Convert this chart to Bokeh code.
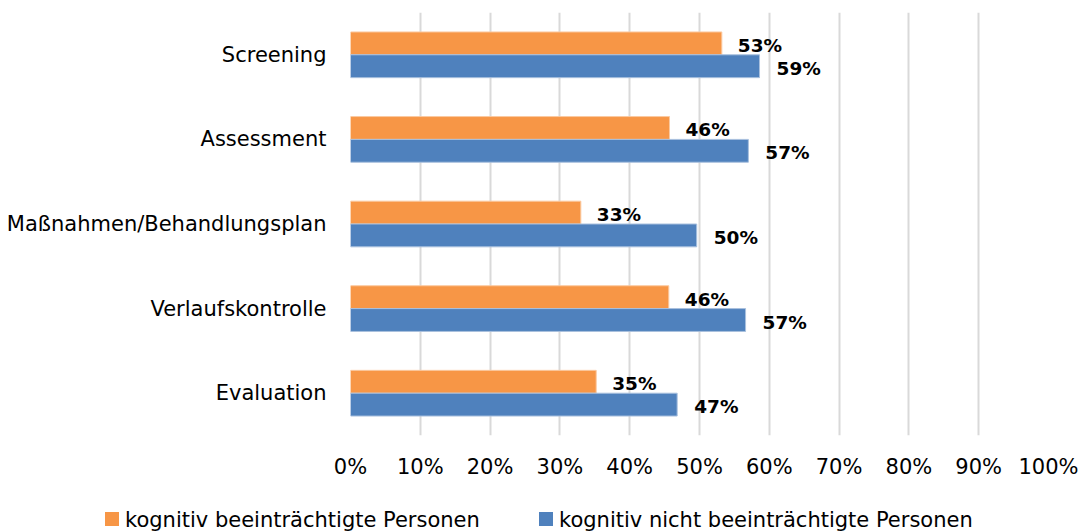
from bokeh.plotting import figure
from bokeh.models import (ColumnDataSource, FactorRange, FixedTicker, PrintfTickFormatter, Div)
from bokeh.layouts import column
from bokeh.transform import dodge
from bokeh.core.properties import value
from bokeh.embed import file_html
from bokeh.resources import INLINE

categories = ["Screening", "Assessment", "Maßnahmen/Behandlungsplan",
              "Verlaufskontrolle", "Evaluation"]
impaired = [53.2, 45.7, 33.0, 45.6, 35.2]        # kognitiv beeinträchtigte Personen
not_impaired = [58.6, 57.0, 49.6, 56.6, 46.8]    # kognitiv nicht beeinträchtigte Personen
x_ticks = [0, 10, 20, 30, 40, 50, 60, 70, 80, 90, 100]
series_names = ["kognitiv beeinträchtigte Personen",
                "kognitiv nicht beeinträchtigte Personen"]

ORANGE = "#F79646"
BLUE = "#4F81BD"
FONT = "DejaVu Sans"

src = ColumnDataSource(dict(
    cat=categories,
    imp=impaired,
    nimp=not_impaired,
    imp_lbl=[f"{v:.0f}%" for v in impaired],
    nimp_lbl=[f"{v:.0f}%" for v in not_impaired],
))

p = figure(width=1080, height=490, output_backend="svg", toolbar_location=None,
           y_range=FactorRange(*reversed(categories), range_padding=0),
           x_range=(0, 100),
           min_border_left=350, min_border_right=32, min_border_top=12,
           min_border_bottom=55)
p.y_range.factor_padding = 0
p.outline_line_color = None
p.background_fill_color = "white"
p.border_fill_color = "white"

bh = 0.27
r1 = p.hbar(y=dodge("cat", bh / 2, range=p.y_range), right="imp", left=0, height=bh,
            source=src, fill_color=ORANGE, line_color="#FBC9A0", line_width=1)
r2 = p.hbar(y=dodge("cat", -bh / 2, range=p.y_range), right="nimp", left=0, height=bh,
            source=src, fill_color=BLUE, line_color="#A9C0DE", line_width=1)

p.text(x="imp", y=dodge("cat", bh / 2, range=p.y_range), text="imp_lbl", source=src,
       x_offset=16, y_offset=2, text_baseline="middle", text_align="left",
       text_font=value(FONT), text_font_style="bold", text_font_size="18.5px",
       text_color="black")
p.text(x="nimp", y=dodge("cat", -bh / 2, range=p.y_range), text="nimp_lbl", source=src,
       x_offset=17, y_offset=2, text_baseline="middle", text_align="left",
       text_font=value(FONT), text_font_style="bold", text_font_size="18.5px",
       text_color="black")

# grid
p.ygrid.grid_line_color = None
p.xgrid.ticker = FixedTicker(ticks=x_ticks)
p.xgrid.grid_line_color = "#d9d9d9"
p.xgrid.grid_line_width = 2

# x axis
xa = p.xaxis[0]
xa.ticker = FixedTicker(ticks=x_ticks)
xa.formatter = PrintfTickFormatter(format="%d%%")
xa.axis_line_color = None
xa.major_tick_line_color = None
xa.minor_tick_line_color = None
xa.major_label_text_font = FONT
xa.major_label_text_font_size = "21px"
xa.major_label_text_color = "black"
xa.major_label_standoff = 13

# y axis
ya = p.yaxis[0]
ya.axis_line_color = None
ya.major_tick_line_color = None
ya.minor_tick_line_color = None
ya.major_label_text_font = FONT
ya.major_label_text_font_size = "21px"
ya.major_label_text_color = "black"
ya.major_label_standoff = 18

# legend strip as HTML (kept outside the plot frame so it is not clipped)
def legend_entry(left, color, label):
    return (f'<span style="position:absolute;left:{left}px;top:22px;width:14px;height:14px;'
            f'background:{color};"></span>'
            f'<span style="position:absolute;left:{left + 20}px;top:18px;line-height:24px;'
            f'white-space:nowrap;">{label}</span>')

legend_html = (f'<div style="position:relative;width:1080px;height:42px;'
               f'font-family:\'{FONT}\';font-size:21px;color:black;">'
               + legend_entry(105, ORANGE, series_names[0])
               + legend_entry(539, BLUE, series_names[1])
               + '</div>')
legend_div = Div(text=legend_html, width=1080, height=42, margin=0)

layout = column(p, legend_div, spacing=0)
open("out.html", "w").write(file_html(layout, INLINE))
